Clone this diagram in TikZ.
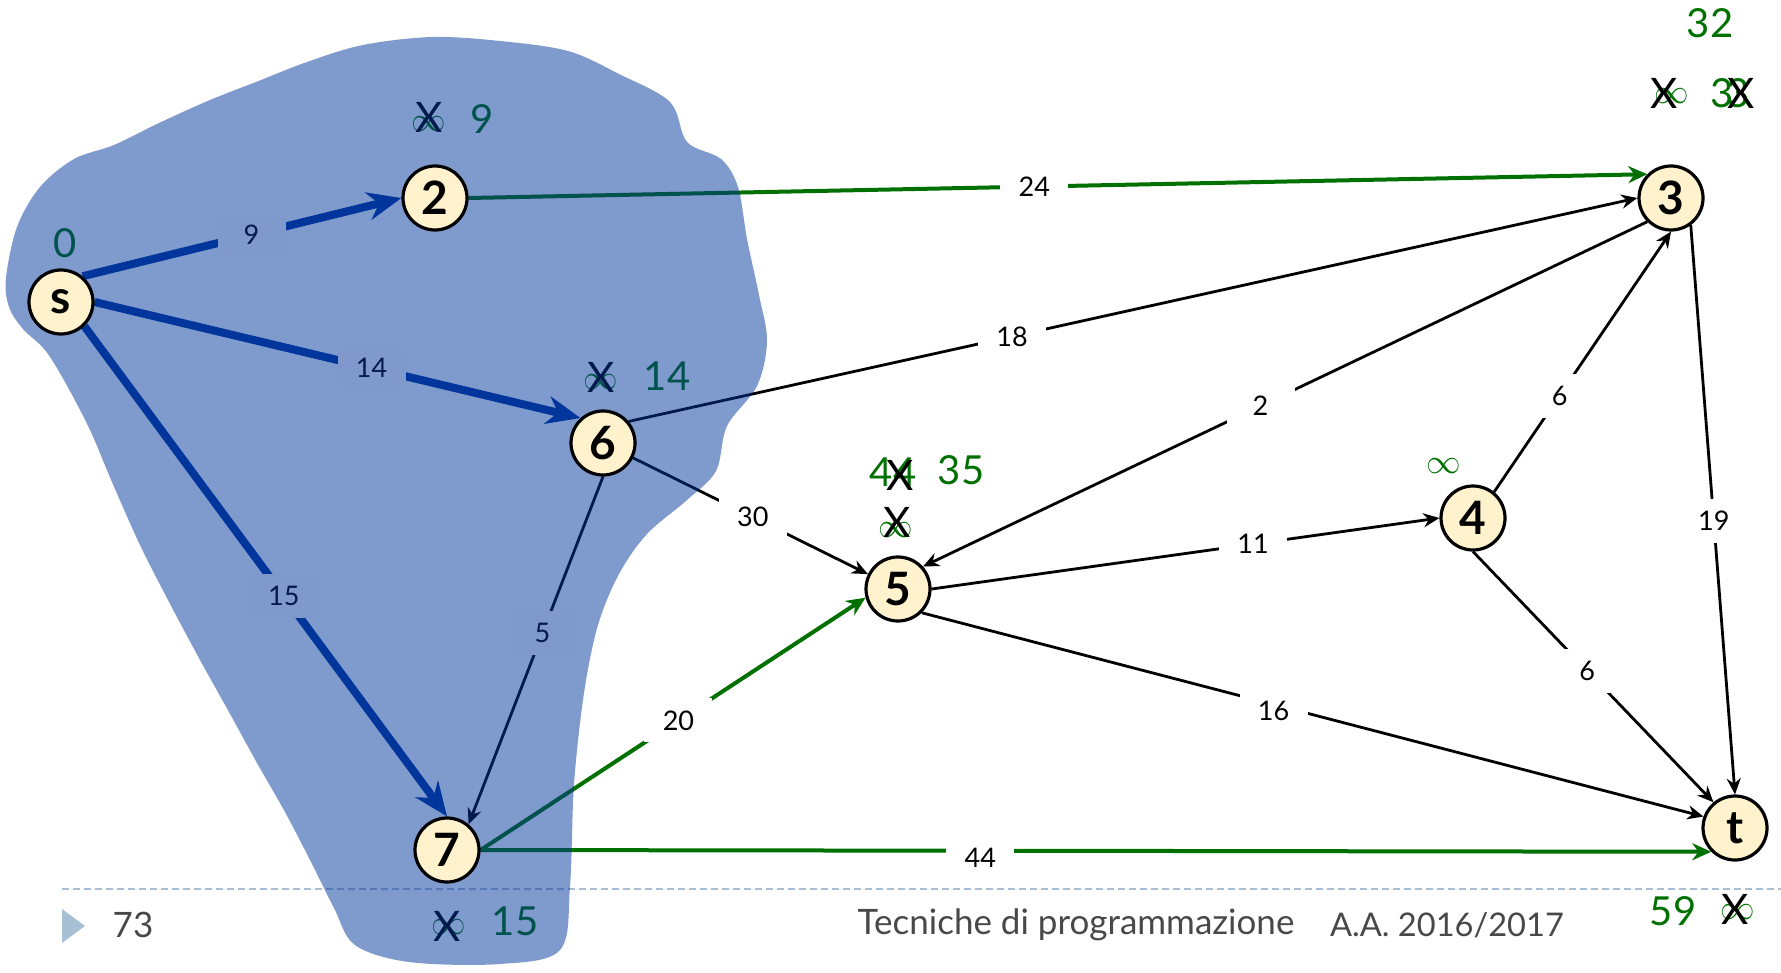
\documentclass[tikz,border=0pt]{standalone}
\usepackage{fontspec}
\setmainfont{Lato}
\usetikzlibrary{arrows.meta}
\definecolor{blobc}{RGB}{0,53,155}
\definecolor{grn}{RGB}{0,112,0}
\definecolor{cream}{RGB}{255,242,204}
\definecolor{footc}{RGB}{72,72,72}
\definecolor{dashc}{RGB}{170,190,210}
\definecolor{tric}{RGB}{168,192,214}
\begin{document}
\begin{tikzpicture}[x=0.5pt,y=-0.5pt,
  vtx/.style={circle,draw=black,line width=1.6pt,fill=cream,minimum size=32pt,inner sep=0pt,
    font=\fontsize{23}{23}\selectfont\bfseries},
  elab/.style={fill=white,inner sep=0pt,minimum width=34pt,minimum height=22pt,
    font=\fontsize{13.5}{13.5}\selectfont},
  thinE/.style={draw=black,line width=1.4pt,-{Stealth[length=8pt,width=7pt]}},
  blueE/.style={draw=blobc,line width=4pt,-{Stealth[length=17pt,width=14pt]}},
  grnE/.style={draw=grn,line width=2pt,-{Stealth[length=9.5pt,width=8.5pt]}},
  ann/.style={inner sep=0pt,text=grn,font=\fontsize{20}{20}\selectfont},
  infs/.style={inner sep=0pt,text=grn,font=\fontsize{16}{16}\selectfont},
  xx/.style={inner sep=0pt,text=black,font=\fontsize{21}{21}\selectfont},
  foot/.style={inner sep=0pt,text=footc,font=\fontsize{17.5}{17.5}\selectfont}
]
\useasboundingbox (0,0) rectangle (1781,973);

\coordinate (ps) at (61,302);
\coordinate (p2) at (435,198);
\coordinate (p6) at (603,443);
\coordinate (p7) at (447,850);
\coordinate (p5) at (898,589);
\coordinate (p4) at (1473,518);
\coordinate (p3) at (1671,198);
\coordinate (pt) at (1735,828);

% placeholders giving the anchors for the edges
\node[vtx,draw=none,fill=none] (s) at (ps) {};
\node[vtx,draw=none,fill=none] (n2) at (p2) {};
\node[vtx,draw=none,fill=none] (n6) at (p6) {};
\node[vtx,draw=none,fill=none] (n7) at (p7) {};
\node[vtx,draw=none,fill=none] (n5) at (p5) {};
\node[vtx,draw=none,fill=none] (n4) at (p4) {};
\node[vtx,draw=none,fill=none] (n3) at (p3) {};
\node[vtx,draw=none,fill=none] (t) at (pt) {};

% footer line (under the blob)
\coordinate (dl) at (62,889);
\coordinate (dr) at (1781,889);
\draw[dashc,line width=1pt,dash pattern=on 3.5pt off 2pt] (dl) -- (dr);

% edges
\draw[blueE] (s.50) -- node[elab,pos=0.53]{9} (n2.west);
\draw[blueE] (s.east) -- node[elab,pos=0.57]{14} (n6.132);
\draw[blueE] (s.-46) -- node[elab,pos=0.55]{15} (n7.north);
\draw[grnE] (n2.east) -- node[elab,pos=0.48]{24} (n3.135);
\draw[thinE] (n6.40) -- node[elab,pos=0.38]{18} (n3.west);
\draw[thinE] (n6) -- node[elab,pos=0.51]{30} (n5);
\draw[thinE] (n6.south) -- node[elab,pos=0.45]{5} (n7.50);
\draw[grnE] (n7.east) -- node[elab,pos=0.514]{20} (n5.195);
\draw[grnE] (n7.east) -- node[elab,pos=0.406,yshift=-3.5pt]{44} (t.225);
\draw[thinE] (n3.225) -- node[elab,pos=0.534]{2} (n5.42);
\draw[thinE] (n5.east) -- node[elab,pos=0.633]{11} (n4.west);
\draw[thinE] (n4.51) -- node[elab,pos=0.37]{6} (n3.south);
\draw[thinE] (n3.306) -- node[elab,pos=0.52]{19} (t.north);
\draw[thinE] (n4.south) -- node[elab,pos=0.475]{6} (t.130);
\draw[thinE] (n5.-45) -- node[elab,pos=0.45,yshift=-3pt]{16} (t.160);

% distance annotations
\node[ann] (a0) at (65,243) {0};
\node[infs] (i2) at (429,124) {$\infty$};
\node[xx] (x2) at (429,117) {X};
\node[ann] (a2) at (482,119) {9};
\node[infs] (i6) at (601,382) {$\infty$};
\node[xx] (x6) at (601,377) {X};
\node[ann] (a6) at (667,376) {14};
\node[infs] (i7) at (449,927) {$\infty$};
\node[xx] (x7) at (447,926) {X};
\node[ann] (a7) at (515,921) {15};
\node[ann] (a5a) at (893,472) {44};
\node[xx] (x5a) at (900,475) {X};
\node[ann] (a5) at (961,470) {35};
\node[infs] (i5) at (896,530) {$\infty$};
\node[xx] (x5b) at (897,522) {X};
\node[infs] (i4) at (1444,466) {$\infty$};
\node[ann] (a3) at (1710,23) {32};
\node[infs] (i3) at (1672,96) {$\infty$};
\node[xx] (x3a) at (1664,93) {X};
\node[ann] (a3b) at (1730,93) {3\kern-4pt3};
\node[xx] (x3b) at (1741,93) {X};
\node[ann] (at) at (1673,911) {59};
\node[infs] (it) at (1738,912) {$\infty$};
\node[xx] (xt) at (1735,909) {X};

% blob (semi-transparent, over edges and labels)
\fill[blobc,opacity=0.5] plot[smooth cycle,tension=0.55] coordinates {
 (6,278) (17,227) (40,187) (74,159) (114,145) (159,123) (210,100) (256,82)
 (307,62) (363,45) (432,37) (500,41) (568,51) (619,74) (670,102) (687,142)
 (721,159) (738,187) (747,239) (759,295) (767,341) (757,386) (727,426)
 (716,471) (687,500) (647,534) (619,574) (598,625) (584,693) (574,784)
 (570,886) (560,950) (500,964) (409,962) (355,945) (334,908) (310,860)
 (285,812) (257,763) (229,712) (200,660) (168,600) (140,545) (112,482)
 (90,430) (65,382) (45,350) (23,329) (9,307)};

% vertices on top
\node[vtx] (vs) at (ps) {s};
\node[vtx] (v2) at (p2) {2};
\node[vtx] (v6) at (p6) {6};
\node[vtx] (v7) at (p7) {7};
\node[vtx] (v5) at (p5) {5};
\node[vtx] (v4) at (p4) {4};
\node[vtx] (v3) at (p3) {3};
\node[vtx] (vt) at (pt) {t};

% footer
\fill[tric] (62,909) -- (85,926) -- (62,943) -- cycle;
\node[foot] (pg) at (133,925) {73};
\node[foot] (ft1) at (1076,925) {Tecniche di programmazione};
\node[foot,font=\fontsize{16.3}{16.3}\selectfont] (ft2) at (1447,925) {A.A. 2016/2017};
\end{tikzpicture}
\end{document}
